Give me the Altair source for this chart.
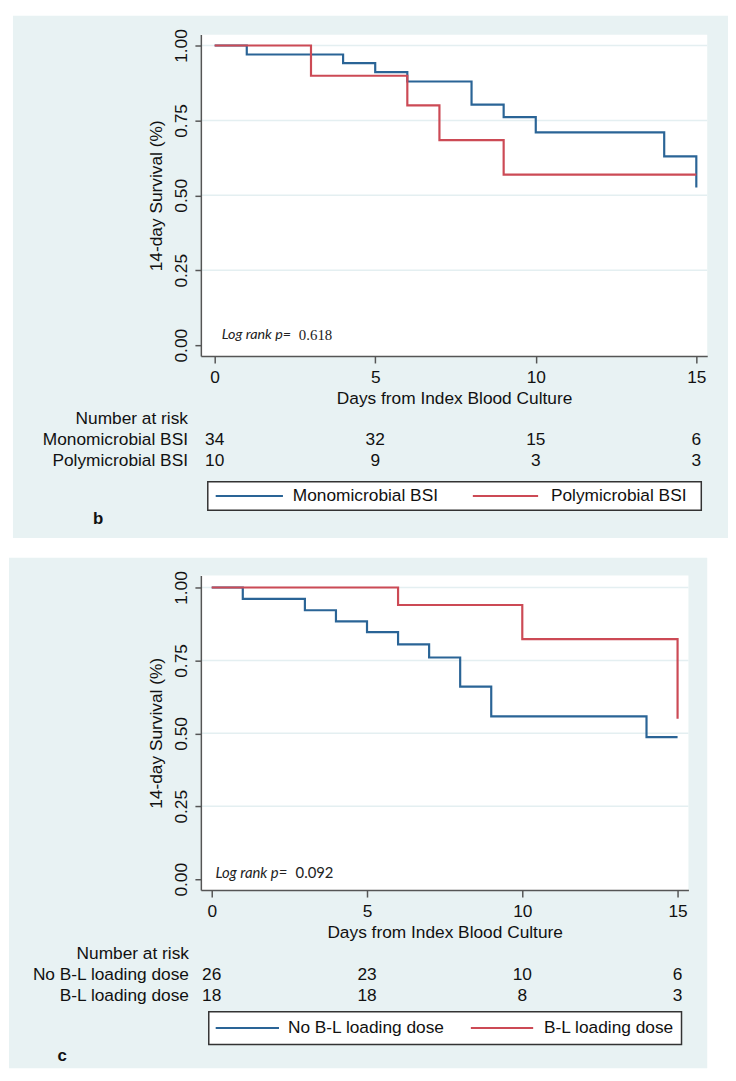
import altair as alt
import pandas as pd

# ---------------- data ----------------
# Panel b
b_groups = ["Monomicrobial BSI", "Polymicrobial BSI"]
b_mono_t = [0, 1, 4, 5, 6, 8, 9, 10, 14, 15]
b_mono_s = [1.0, 0.970, 0.941, 0.911, 0.880, 0.803, 0.761, 0.710, 0.630, 0.526]
b_poly_t = [0, 3, 6, 7, 9, 15]
b_poly_s = [1.0, 0.899, 0.800, 0.684, 0.569, 0.569]
b_risk_days = [0, 5, 10, 15]
b_risk_mono = [34, 32, 15, 6]
b_risk_poly = [10, 9, 3, 3]
b_pvalue = "0.618"

# Panel c
c_groups = ["No B-L loading dose", "B-L loading dose"]
c_no_t = [0, 1, 3, 4, 5, 6, 7, 8, 9, 14, 15]
c_no_s = [1.0, 0.961, 0.922, 0.884, 0.847, 0.805, 0.760, 0.660, 0.558, 0.487, 0.487]
c_yes_t = [0, 6, 10, 15]
c_yes_s = [1.0, 0.940, 0.823, 0.550]
c_risk_days = [0, 5, 10, 15]
c_risk_no = [26, 23, 10, 6]
c_risk_yes = [18, 18, 8, 3]
c_pvalue = "0.092"

x_ticks = [0, 5, 10, 15]
y_ticks = [0, 0.25, 0.5, 0.75, 1.0]
grid_levels = [0.25, 0.5, 0.75, 1.0]

BLUE = "#2a6496"
RED = "#cc4a55"
TEAL = "#e8f2f3"
GRID = "#e4eff1"
AXC = "#555555"
FONT = "Liberation Sans"
FS = 17.5


def panel(groups, curves, risk_days, risk_rows, pvalue, pfont, letter,
          W, H, xdom, ydom, g):
    X = alt.X("t:Q", scale=alt.Scale(domain=xdom, nice=False, zero=False),
              axis=alt.Axis(values=x_ticks, title="Days from Index Blood Culture",
                            grid=False, tickSize=7, labelPadding=6, titlePadding=3,
                            domainColor=AXC, tickColor=AXC, domainWidth=1.5,
                            tickWidth=1.5, labelFontSize=FS, titleFontSize=FS,
                            titleFontWeight="normal", labelColor="#111",
                            titleColor="#111", labelFlush=False, zindex=1))
    Y = alt.Y("s:Q", scale=alt.Scale(domain=ydom, nice=False, zero=False),
              axis=alt.Axis(values=y_ticks, format=".2f", title="14-day Survival (%)",
                            grid=False, tickSize=6, labelPadding=5, labelAngle=270,
                            labelAlign="center", labelBaseline="bottom",
                            titlePadding=7, domainColor=AXC, tickColor=AXC,
                            domainWidth=1.5, tickWidth=1.5, labelFontSize=FS,
                            titleFontSize=FS, titleFontWeight="normal",
                            labelColor="#111", titleColor="#111", zindex=1))
    one = pd.DataFrame({"k": [0]})

    bg = alt.Chart(one).mark_rect(color=TEAL).encode(
        x=alt.value(g["bx0"]), x2=alt.value(g["bx1"]),
        y=alt.value(g["by0"]), y2=alt.value(g["by1"]))
    plotbg = alt.Chart(one).mark_rect(color="white").encode(
        x=alt.value(0), x2=alt.value(W), y=alt.value(0), y2=alt.value(H))
    grid = alt.Chart(pd.DataFrame({"s": grid_levels})).mark_rule(
        color=GRID, strokeWidth=1.5).encode(x=alt.value(1), x2=alt.value(W), y=Y)

    rows = []
    for name, (ts, ss) in zip(groups, curves):
        for t, s in zip(ts, ss):
            rows.append({"t": t, "s": s, "g": name})
    curve_df = pd.DataFrame(rows)
    lines = alt.Chart(curve_df).mark_line(interpolate="step-after", strokeWidth=2.2).encode(
        x=X, y=Y,
        color=alt.Color("g:N", scale=alt.Scale(domain=groups, range=[BLUE, RED]),
                        legend=None),
        detail="g:N")

    ann = pd.DataFrame({"t": [g["pt"]], "s": [g["ps"]]})
    lr1 = alt.Chart(ann).mark_text(text="Log rank p=", font="Lato", fontStyle="italic",
                                   fontSize=g["pfs"], align="left", baseline="middle",
                                   color="#222").encode(x=X, y=Y)
    lr2 = alt.Chart(ann).mark_text(text=pvalue, font=pfont, fontSize=g["pfs2"],
                                   align="left", baseline="middle", dx=g["pdx"],
                                   color="#222").encode(x=X, y=Y)

    layers = [bg, plotbg, grid, lines, lr1, lr2]

    # number at risk table
    layers.append(alt.Chart(one).mark_text(text="Number at risk", align="right",
                                           baseline="middle", fontSize=FS,
                                           color="#111").encode(
        x=alt.value(g["lab_x"]), y=alt.value(g["nar_y"])))
    for name, counts, yy in zip(groups, risk_rows, g["row_y"]):
        layers.append(alt.Chart(one).mark_text(text=name, align="right",
                                               baseline="middle", fontSize=FS,
                                               color="#111").encode(
            x=alt.value(g["lab_x"]), y=alt.value(yy)))
        df = pd.DataFrame({"t": risk_days, "n": counts})
        layers.append(alt.Chart(df).mark_text(align="center", baseline="middle",
                                              fontSize=FS, color="#111").encode(
            x=X, y=alt.value(yy), text="n:Q"))

    # legend box
    layers.append(alt.Chart(one).mark_rect(fill="white", stroke="#333333",
                                           strokeWidth=1.5).encode(
        x=alt.value(g["lx0"]), x2=alt.value(g["lx1"]),
        y=alt.value(g["ly0"]), y2=alt.value(g["ly1"])))
    ly = (g["ly0"] + g["ly1"]) / 2
    for name, col, (a, b), tx in zip(groups, [BLUE, RED], g["seg"], g["ltx"]):
        layers.append(alt.Chart(one).mark_rule(color=col, strokeWidth=2).encode(
            x=alt.value(a), x2=alt.value(b), y=alt.value(ly)))
        layers.append(alt.Chart(one).mark_text(text=name, align="left",
                                               baseline="middle", fontSize=FS,
                                               color="#111").encode(
            x=alt.value(tx), y=alt.value(ly)))
    layers.append(alt.Chart(one).mark_text(text=letter, align="left", baseline="middle",
                                           fontSize=17, fontWeight="bold",
                                           color="#111").encode(
        x=alt.value(g["let_x"]), y=alt.value(g["let_y"])))

    return alt.layer(*layers).properties(width=W, height=H,
                                         view=alt.ViewBackground(stroke=None))


top = panel(b_groups, [(b_mono_t, b_mono_s), (b_poly_t, b_poly_s)],
            b_risk_days, [b_risk_mono, b_risk_poly], b_pvalue, "Liberation Serif", "b",
            512, 325, [-0.43, 15.34], [-0.0363, 1.0363],
            dict(bx0=-190, bx1=533, by0=-19, by1=509,
                 pt=0.22, ps=0.035, pfs=14.5, pfs2=15, pdx=78,
                 lab_x=-13, nar_y=389, row_y=[410, 431],
                 lx0=7, lx1=506, ly0=452, ly1=481,
                 seg=[(15, 83), (275, 341)], ltx=[93, 354],
                 let_x=-109, let_y=490))

bottom = panel(c_groups, [(c_no_t, c_no_s), (c_yes_t, c_yes_s)],
               c_risk_days, [c_risk_no, c_risk_yes], c_pvalue, "Lato", "c",
               493, 318, [-0.35, 15.35], [-0.0373, 1.0407],
               dict(bx0=-194, bx1=512, by0=-18, by1=498,
                    pt=0.12, ps=0.022, pfs=15, pfs2=15, pdx=81,
                    lab_x=-12, nar_y=383, row_y=[404, 425],
                    lx0=8, lx1=486, ly0=441, ly1=474,
                    seg=[(15, 79), (273, 336)], ltx=[88, 347],
                    let_x=-145, let_y=486))

chart = alt.vconcat(top, bottom, spacing=20).properties(
    padding={"left": 1, "top": 2, "right": 0, "bottom": 0},
    background="white",
).configure(font=FONT).configure_view(stroke=None)

chart.save("out.html", embed_options={"renderer": "svg", "actions": False})
